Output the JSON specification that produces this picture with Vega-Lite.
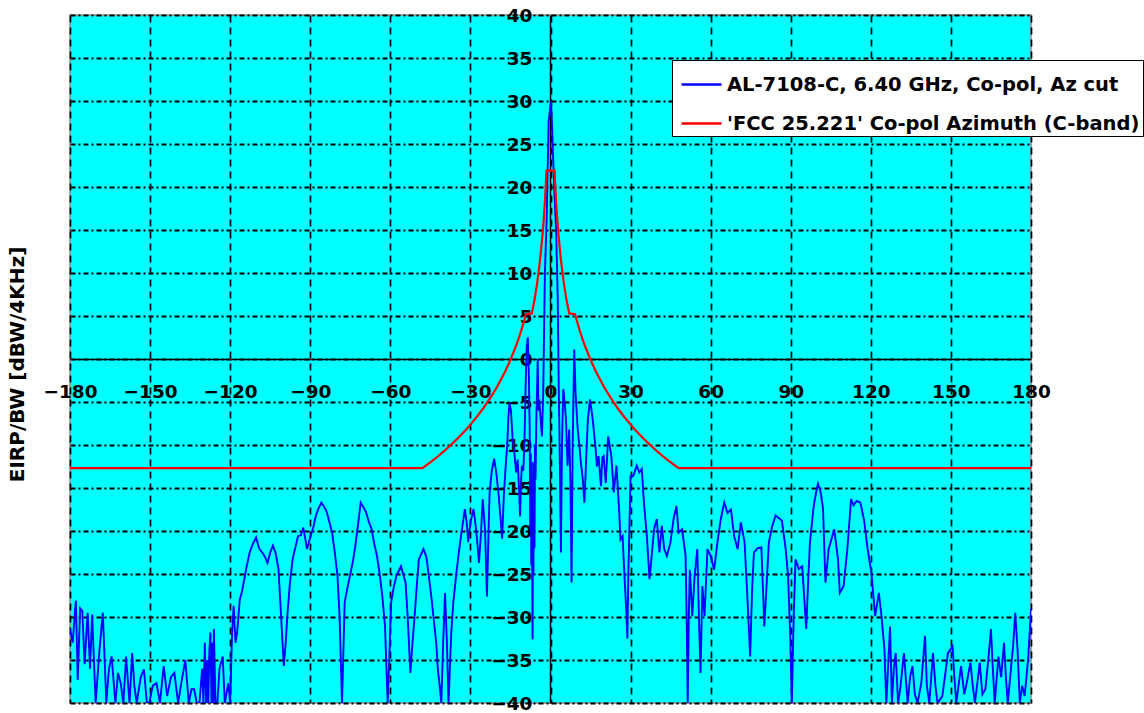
{
  "$schema": "https://vega.github.io/schema/vega-lite/v6.json",
  "width": 961,
  "height": 688,
  "autosize": {"type": "none"},
  "padding": {"left": 70, "top": 15, "right": 113, "bottom": 10},
  "background": "white",
  "config": {
    "view": {"fill": "#00FFFF", "stroke": "#8c8c8c", "strokeWidth": 1.5},
    "font": "DejaVu Sans"
  },
  "datasets": {
    "antenna": [
      {"az": -180, "eirp": -31.4}, {"az": -179, "eirp": -33}, {"az": -177.8, "eirp": -28.1}, {"az": -177.1, "eirp": -37.3},
      {"az": -176.2, "eirp": -29.0}, {"az": -175.4, "eirp": -29.3}, {"az": -174.5, "eirp": -35.5}, {"az": -173.4, "eirp": -29.5},
      {"az": -172.5, "eirp": -36}, {"az": -171.7, "eirp": -29.7}, {"az": -170.4, "eirp": -40}, {"az": -169, "eirp": -34},
      {"az": -167.7, "eirp": -29.5}, {"az": -166.4, "eirp": -40}, {"az": -165.4, "eirp": -36}, {"az": -164.4, "eirp": -34.6},
      {"az": -163.0, "eirp": -40}, {"az": -162, "eirp": -36.5}, {"az": -161.0, "eirp": -37.7}, {"az": -160, "eirp": -40},
      {"az": -159.0, "eirp": -34.6}, {"az": -157.7, "eirp": -40}, {"az": -156.7, "eirp": -34.2}, {"az": -155.9, "eirp": -38},
      {"az": -155.0, "eirp": -40}, {"az": -153.5, "eirp": -37}, {"az": -152.3, "eirp": -36.1}, {"az": -151.2, "eirp": -40},
      {"az": -150.3, "eirp": -40}, {"az": -149, "eirp": -38}, {"az": -147.6, "eirp": -37.7}, {"az": -146.3, "eirp": -40},
      {"az": -144.9, "eirp": -35.7}, {"az": -143.6, "eirp": -39.2}, {"az": -142.2, "eirp": -37}, {"az": -140.9, "eirp": -36.5},
      {"az": -139.5, "eirp": -40}, {"az": -138.2, "eirp": -37.5}, {"az": -136.8, "eirp": -35.0}, {"az": -135.5, "eirp": -40},
      {"az": -134.5, "eirp": -38.4}, {"az": -133.5, "eirp": -38.4}, {"az": -132.5, "eirp": -40}, {"az": -131.5, "eirp": -40},
      {"az": -130.5, "eirp": -36}, {"az": -130, "eirp": -40}, {"az": -129.5, "eirp": -33.0}, {"az": -129, "eirp": -40},
      {"az": -128.6, "eirp": -35}, {"az": -128.2, "eirp": -40}, {"az": -127.8, "eirp": -34}, {"az": -127.4, "eirp": -31.8},
      {"az": -127, "eirp": -40}, {"az": -126.6, "eirp": -33}, {"az": -126.3, "eirp": -40}, {"az": -126.1, "eirp": -31.4},
      {"az": -125.5, "eirp": -40}, {"az": -124.8, "eirp": -40}, {"az": -124, "eirp": -36}, {"az": -122.8, "eirp": -34.6},
      {"az": -122, "eirp": -40}, {"az": -120.7, "eirp": -37.7}, {"az": -120, "eirp": -40}, {"az": -119.3, "eirp": -32},
      {"az": -118.7, "eirp": -28.7}, {"az": -118, "eirp": -33}, {"az": -117.4, "eirp": -31.8}, {"az": -116.4, "eirp": -28},
      {"az": -115.4, "eirp": -26.8}, {"az": -114.0, "eirp": -24.4}, {"az": -112.7, "eirp": -22.5}, {"az": -111.5, "eirp": -21.5},
      {"az": -110.3, "eirp": -20.75}, {"az": -109.2, "eirp": -22}, {"az": -108.0, "eirp": -22.5}, {"az": -107, "eirp": -23},
      {"az": -106.0, "eirp": -23.7}, {"az": -105, "eirp": -22.5}, {"az": -104.0, "eirp": -21.7}, {"az": -103, "eirp": -22.5},
      {"az": -101.9, "eirp": -24.4}, {"az": -100.9, "eirp": -30}, {"az": -99.9, "eirp": -35.7}, {"az": -99.2, "eirp": -33},
      {"az": -98.6, "eirp": -29.9}, {"az": -97.6, "eirp": -26}, {"az": -96.6, "eirp": -23.3}, {"az": -94.6, "eirp": -20.6},
      {"az": -93.5, "eirp": -20.5}, {"az": -92.6, "eirp": -19.6}, {"az": -91.8, "eirp": -21}, {"az": -91.2, "eirp": -22.1},
      {"az": -89.9, "eirp": -20.6}, {"az": -88.8, "eirp": -19.5}, {"az": -87.9, "eirp": -18.2}, {"az": -86.8, "eirp": -17.3},
      {"az": -85.8, "eirp": -16.7}, {"az": -84.8, "eirp": -17.2}, {"az": -83.8, "eirp": -17.8}, {"az": -82.8, "eirp": -19},
      {"az": -81.8, "eirp": -20.2}, {"az": -80.8, "eirp": -22.5}, {"az": -79.8, "eirp": -25.2}, {"az": -79, "eirp": -30},
      {"az": -78.1, "eirp": -40}, {"az": -77.1, "eirp": -28.3}, {"az": -76, "eirp": -26.5}, {"az": -75.1, "eirp": -25.2},
      {"az": -74, "eirp": -23.5}, {"az": -73.1, "eirp": -21.7}, {"az": -72, "eirp": -19}, {"az": -71.1, "eirp": -16.7},
      {"az": -70, "eirp": -17.3}, {"az": -69.1, "eirp": -17.8}, {"az": -68, "eirp": -19}, {"az": -67.0, "eirp": -19.8},
      {"az": -66, "eirp": -21.5}, {"az": -65.0, "eirp": -22.9}, {"az": -64, "eirp": -25}, {"az": -63.0, "eirp": -27.6},
      {"az": -62, "eirp": -31}, {"az": -61.0, "eirp": -40}, {"az": -60.3, "eirp": -34}, {"az": -59.7, "eirp": -28.3},
      {"az": -58.7, "eirp": -26.5}, {"az": -57.7, "eirp": -25.2}, {"az": -56.0, "eirp": -24.1}, {"az": -55.2, "eirp": -25},
      {"az": -54.3, "eirp": -26.0}, {"az": -53.5, "eirp": -30}, {"az": -52.5, "eirp": -36.5}, {"az": -51.7, "eirp": -33},
      {"az": -50.9, "eirp": -29.9}, {"az": -50, "eirp": -26}, {"az": -49.3, "eirp": -23.3}, {"az": -47.6, "eirp": -22.1},
      {"az": -46.5, "eirp": -23}, {"az": -45.6, "eirp": -25.2}, {"az": -44.5, "eirp": -28}, {"az": -43.6, "eirp": -30.7},
      {"az": -42.8, "eirp": -33}, {"az": -42.2, "eirp": -36.1}, {"az": -41.5, "eirp": -38}, {"az": -40.9, "eirp": -40},
      {"az": -40.2, "eirp": -33}, {"az": -39.5, "eirp": -27.2}, {"az": -38.8, "eirp": -33}, {"az": -38.2, "eirp": -40},
      {"az": -37.2, "eirp": -32}, {"az": -36.4, "eirp": -28.3}, {"az": -35.3, "eirp": -25}, {"az": -34.2, "eirp": -22.1},
      {"az": -33, "eirp": -19.5}, {"az": -32.1, "eirp": -17.45}, {"az": -31.4, "eirp": -19}, {"az": -30.8, "eirp": -21.3},
      {"az": -30, "eirp": -19}, {"az": -28.8, "eirp": -17.45}, {"az": -27.8, "eirp": -20}, {"az": -26.8, "eirp": -23.7},
      {"az": -26, "eirp": -20}, {"az": -25.4, "eirp": -16.3}, {"az": -24.5, "eirp": -20}, {"az": -23.8, "eirp": -27.6},
      {"az": -23.2, "eirp": -20}, {"az": -22.8, "eirp": -15.5}, {"az": -22, "eirp": -13}, {"az": -21.1, "eirp": -11.6},
      {"az": -20.2, "eirp": -13.5}, {"az": -19.4, "eirp": -15.9}, {"az": -18.1, "eirp": -20.9}, {"az": -17.5, "eirp": -16},
      {"az": -16.7, "eirp": -12.0}, {"az": -16.2, "eirp": -10}, {"az": -15.8, "eirp": -7}, {"az": -15.4, "eirp": -5.1},
      {"az": -14.8, "eirp": -6}, {"az": -14.2, "eirp": -9.3}, {"az": -13.5, "eirp": -11}, {"az": -12.9, "eirp": -13.2},
      {"az": -12.3, "eirp": -11.7}, {"az": -11.8, "eirp": -15}, {"az": -11.4, "eirp": -18.3}, {"az": -11.0, "eirp": -14},
      {"az": -10.7, "eirp": -12.4}, {"az": -10.2, "eirp": -13}, {"az": -9.8, "eirp": -10.1}, {"az": -9.3, "eirp": -3},
      {"az": -8.9, "eirp": 1.5}, {"az": -8.5, "eirp": 2.5}, {"az": -8.1, "eirp": -2}, {"az": -7.8, "eirp": -8},
      {"az": -7.6, "eirp": -20}, {"az": -7.4, "eirp": -11}, {"az": -7.2, "eirp": -24}, {"az": -7.0, "eirp": -12},
      {"az": -6.85, "eirp": -25}, {"az": -6.7, "eirp": -32.6}, {"az": -6.55, "eirp": -14}, {"az": -6.4, "eirp": -25},
      {"az": -6.2, "eirp": -12}, {"az": -6.0, "eirp": -22}, {"az": -5.8, "eirp": -10}, {"az": -5.6, "eirp": -14},
      {"az": -5.3, "eirp": -7}, {"az": -5.0, "eirp": -3}, {"az": -4.8, "eirp": 0}, {"az": -4.5, "eirp": -6},
      {"az": -4.2, "eirp": -4.7}, {"az": -3.7, "eirp": -7}, {"az": -3.2, "eirp": -9.0}, {"az": -2.7, "eirp": -3.6},
      {"az": -2.1, "eirp": 10}, {"az": -1.4, "eirp": 16.7}, {"az": -0.7, "eirp": 27.6}, {"az": 0.2, "eirp": 30},
      {"az": 0.7, "eirp": 26}, {"az": 1.4, "eirp": 19.8}, {"az": 2.1, "eirp": 15}, {"az": 2.7, "eirp": 7.3},
      {"az": 3.1, "eirp": -3.6}, {"az": 3.5, "eirp": -12}, {"az": 3.9, "eirp": -22.5}, {"az": 4.3, "eirp": -10},
      {"az": 4.8, "eirp": -3.5}, {"az": 5.3, "eirp": -5}, {"az": 5.8, "eirp": -7.0}, {"az": 6.4, "eirp": -12.4},
      {"az": 7.0, "eirp": -8.2}, {"az": 7.5, "eirp": -15}, {"az": 7.9, "eirp": -26.0}, {"az": 8.3, "eirp": -10},
      {"az": 8.9, "eirp": 1.1}, {"az": 9.4, "eirp": -4}, {"az": 10.2, "eirp": -8.2}, {"az": 10.8, "eirp": -10},
      {"az": 11.4, "eirp": -12.1}, {"az": 12.1, "eirp": -14}, {"az": 12.7, "eirp": -16.7}, {"az": 13.3, "eirp": -12.1},
      {"az": 14.0, "eirp": -7}, {"az": 14.8, "eirp": -4.7}, {"az": 15.8, "eirp": -7.0}, {"az": 16.8, "eirp": -10.1},
      {"az": 17.4, "eirp": -12.5}, {"az": 18.0, "eirp": -11.3}, {"az": 18.9, "eirp": -14.8}, {"az": 19.4, "eirp": -11.5},
      {"az": 19.9, "eirp": -11.3}, {"az": 20.7, "eirp": -14.4}, {"az": 21.6, "eirp": -9.0}, {"az": 22.8, "eirp": -11.3},
      {"az": 23.7, "eirp": -15.5}, {"az": 24.7, "eirp": -12.4}, {"az": 25.7, "eirp": -17.5}, {"az": 26.2, "eirp": -21.0},
      {"az": 27.0, "eirp": -20.6}, {"az": 27.9, "eirp": -26.4}, {"az": 28.5, "eirp": -29.9}, {"az": 28.8, "eirp": -32.5},
      {"az": 29.1, "eirp": -26.0}, {"az": 30.0, "eirp": -13.6}, {"az": 31.0, "eirp": -13.6}, {"az": 32.3, "eirp": -12.4},
      {"az": 33.3, "eirp": -13.2}, {"az": 34.2, "eirp": -12.8}, {"az": 35.0, "eirp": -16.7}, {"az": 36.1, "eirp": -20.6},
      {"az": 37.1, "eirp": -25.6}, {"az": 37.9, "eirp": -22.9}, {"az": 38.8, "eirp": -19.8}, {"az": 39.8, "eirp": -18.6},
      {"az": 40.8, "eirp": -22.5}, {"az": 41.7, "eirp": -19.4}, {"az": 42.6, "eirp": -22.1}, {"az": 43.6, "eirp": -22.9},
      {"az": 44.9, "eirp": -21.4}, {"az": 46.1, "eirp": -18.6}, {"az": 47.2, "eirp": -17.1}, {"az": 48.0, "eirp": -20.2},
      {"az": 49.3, "eirp": -19.8}, {"az": 50.6, "eirp": -22.9}, {"az": 51.0, "eirp": -30}, {"az": 51.4, "eirp": -40},
      {"az": 51.8, "eirp": -30}, {"az": 52.2, "eirp": -24.5}, {"az": 53.1, "eirp": -29.9}, {"az": 54.0, "eirp": -25.2},
      {"az": 55.0, "eirp": -22.1}, {"az": 55.6, "eirp": -30}, {"az": 56.2, "eirp": -36.5}, {"az": 56.9, "eirp": -26.4},
      {"az": 57.7, "eirp": -29.9}, {"az": 58.8, "eirp": -22.1}, {"az": 60.0, "eirp": -22.9}, {"az": 61.3, "eirp": -24.5},
      {"az": 62.5, "eirp": -21.4}, {"az": 63.8, "eirp": -18.6}, {"az": 65.1, "eirp": -16.7}, {"az": 66.3, "eirp": -17.9},
      {"az": 67.6, "eirp": -17.5}, {"az": 68.8, "eirp": -20.6}, {"az": 70.1, "eirp": -22.1}, {"az": 71.3, "eirp": -19.0},
      {"az": 72.7, "eirp": -21.3}, {"az": 73.8, "eirp": -28}, {"az": 74.8, "eirp": -34.6}, {"az": 75.5, "eirp": -27},
      {"az": 76.2, "eirp": -22.5}, {"az": 77.6, "eirp": -22.0}, {"az": 79.0, "eirp": -21.9}, {"az": 80.1, "eirp": -31.1},
      {"az": 81.0, "eirp": -26}, {"az": 81.8, "eirp": -21.3}, {"az": 83.0, "eirp": -19.5}, {"az": 84.3, "eirp": -18.2},
      {"az": 85.5, "eirp": -18.5}, {"az": 86.7, "eirp": -18.8}, {"az": 88.1, "eirp": -22.1}, {"az": 89.0, "eirp": -25.2},
      {"az": 89.8, "eirp": -32}, {"az": 90.4, "eirp": -40}, {"az": 91.1, "eirp": -30}, {"az": 91.8, "eirp": -23.3},
      {"az": 93.0, "eirp": -24.4}, {"az": 94.3, "eirp": -24.1}, {"az": 95.8, "eirp": -31.4}, {"az": 96.5, "eirp": -26},
      {"az": 97.2, "eirp": -21.3}, {"az": 98.6, "eirp": -17.1}, {"az": 99.5, "eirp": -15.5}, {"az": 100.2, "eirp": -14.5},
      {"az": 101.2, "eirp": -15.5}, {"az": 102.1, "eirp": -17.4}, {"az": 103.0, "eirp": -26.0}, {"az": 104.2, "eirp": -22.1},
      {"az": 106.3, "eirp": -19.8}, {"az": 107.7, "eirp": -23.3}, {"az": 108.4, "eirp": -27.2}, {"az": 109.8, "eirp": -26.4},
      {"az": 111.2, "eirp": -22.1}, {"az": 112.6, "eirp": -16.3}, {"az": 113.5, "eirp": -17}, {"az": 114.7, "eirp": -16.5},
      {"az": 116.1, "eirp": -16.7}, {"az": 117.5, "eirp": -18.8}, {"az": 118.8, "eirp": -22.1}, {"az": 120.2, "eirp": -24.8},
      {"az": 121.6, "eirp": -29.9}, {"az": 123.0, "eirp": -27.2}, {"az": 124.0, "eirp": -29.9}, {"az": 125.1, "eirp": -33.8},
      {"az": 125.8, "eirp": -40}, {"az": 127.2, "eirp": -31.1}, {"az": 127.9, "eirp": -40}, {"az": 128.6, "eirp": -36},
      {"az": 129.3, "eirp": -34.2}, {"az": 130.2, "eirp": -40}, {"az": 131.0, "eirp": -38.4}, {"az": 132.4, "eirp": -34.2},
      {"az": 133.8, "eirp": -40}, {"az": 134.7, "eirp": -37}, {"az": 135.6, "eirp": -35.7}, {"az": 136.5, "eirp": -39},
      {"az": 137.5, "eirp": -40}, {"az": 138.9, "eirp": -37.7}, {"az": 140.3, "eirp": -32.2}, {"az": 141.0, "eirp": -38},
      {"az": 141.9, "eirp": -40}, {"az": 143.3, "eirp": -34.2}, {"az": 144.2, "eirp": -38}, {"az": 145.0, "eirp": -40},
      {"az": 146.8, "eirp": -39.2}, {"az": 148.9, "eirp": -34.2}, {"az": 150.6, "eirp": -33.4}, {"az": 151.3, "eirp": -37},
      {"az": 152.0, "eirp": -40}, {"az": 153.8, "eirp": -35.7}, {"az": 155.0, "eirp": -39}, {"az": 155.9, "eirp": -37.7},
      {"az": 157.3, "eirp": -35.3}, {"az": 158.2, "eirp": -38}, {"az": 159.0, "eirp": -40}, {"az": 160.8, "eirp": -35.3},
      {"az": 161.8, "eirp": -39}, {"az": 162.9, "eirp": -38.4}, {"az": 164.0, "eirp": -35}, {"az": 165.0, "eirp": -31.4},
      {"az": 165.7, "eirp": -36}, {"az": 166.4, "eirp": -40}, {"az": 167.8, "eirp": -34.6}, {"az": 168.8, "eirp": -37},
      {"az": 169.9, "eirp": -33.0}, {"az": 170.6, "eirp": -37}, {"az": 171.3, "eirp": -40}, {"az": 172.7, "eirp": -35.3},
      {"az": 173.4, "eirp": -33}, {"az": 174.1, "eirp": -29.5}, {"az": 175.0, "eirp": -34}, {"az": 175.8, "eirp": -40},
      {"az": 176.7, "eirp": -38}, {"az": 177.6, "eirp": -39.2}, {"az": 178.3, "eirp": -37}, {"az": 179.0, "eirp": -34.6},
      {"az": 180, "eirp": -29.1}
    ],
    "fcc": [
      {"az": -180, "eirp": -12.7}, {"az": -48, "eirp": -12.7}, {"az": -45, "eirp": -12.03}, {"az": -42, "eirp": -11.28},
      {"az": -40, "eirp": -10.75}, {"az": -37, "eirp": -9.9}, {"az": -35, "eirp": -9.3}, {"az": -32, "eirp": -8.33},
      {"az": -30, "eirp": -7.63}, {"az": -27, "eirp": -6.48}, {"az": -25, "eirp": -5.65}, {"az": -22, "eirp": -4.26},
      {"az": -20, "eirp": -3.23}, {"az": -17, "eirp": -1.46}, {"az": -15, "eirp": -0.1}, {"az": -13, "eirp": 1.45},
      {"az": -12, "eirp": 2.32}, {"az": -11, "eirp": 3.27}, {"az": -10, "eirp": 4.3}, {"az": -9.2, "eirp": 5.2},
      {"az": -7, "eirp": 5.3}, {"az": -6, "eirp": 6.85}, {"az": -5, "eirp": 8.83}, {"az": -4, "eirp": 11.25},
      {"az": -3, "eirp": 14.37}, {"az": -2.5, "eirp": 16.35}, {"az": -2, "eirp": 18.77}, {"az": -1.5, "eirp": 21.9},
      {"az": 1.5, "eirp": 21.9}, {"az": 2, "eirp": 18.77}, {"az": 2.5, "eirp": 16.35}, {"az": 3, "eirp": 14.37},
      {"az": 4, "eirp": 11.25}, {"az": 5, "eirp": 8.83}, {"az": 6, "eirp": 6.85}, {"az": 7, "eirp": 5.3},
      {"az": 9.2, "eirp": 5.2}, {"az": 10, "eirp": 4.3}, {"az": 11, "eirp": 3.27}, {"az": 12, "eirp": 2.32},
      {"az": 13, "eirp": 1.45}, {"az": 15, "eirp": -0.1}, {"az": 17, "eirp": -1.46}, {"az": 20, "eirp": -3.23},
      {"az": 22, "eirp": -4.26}, {"az": 25, "eirp": -5.65}, {"az": 27, "eirp": -6.48}, {"az": 30, "eirp": -7.63},
      {"az": 32, "eirp": -8.33}, {"az": 35, "eirp": -9.3}, {"az": 37, "eirp": -9.9}, {"az": 40, "eirp": -10.75},
      {"az": 42, "eirp": -11.28}, {"az": 45, "eirp": -12.03}, {"az": 48, "eirp": -12.7}, {"az": 180, "eirp": -12.7}
    ]
  },
  "layer": [
    {
      "data": {"name": "antenna"},
      "mark": {"type": "line", "strokeWidth": 1.9, "clip": true},
      "encoding": {
        "x": {
          "field": "az", "type": "quantitative",
          "scale": {"domain": [-180, 180], "nice": false, "zero": false},
          "axis": {
            "values": [-180, -150, -120, -90, -60, -30, 0, 30, 60, 90, 120, 150, 180],
            "offset": -344,
            "title": null,
            "domainColor": "black", "domainWidth": 1.5,
            "ticks": false,
            "labelPadding": 23,
            "labelFont": "DejaVu Sans", "labelFontWeight": "bold", "labelFontSize": 18.5, "labelColor": "black",
            "labelFlush": false, "labelOverlap": false, "labelBound": false,
            "grid": true, "gridColor": "black", "gridDash": [7, 5], "gridWidth": 1.7, "gridOpacity": 1
          }
        },
        "y": {
          "field": "eirp", "type": "quantitative",
          "scale": {"domain": [-40, 40], "nice": false, "zero": false},
          "axis": {
            "values": [-40, -35, -30, -25, -20, -15, -10, -5, 0, 5, 10, 15, 20, 25, 30, 35, 40],
            "offset": -480,
            "title": "EIRP/BW [dBW/4KHz]",
            "titleX": -533, "titleY": 349, "titleAngle": 270, "titleAlign": "center", "titleBaseline": "middle",
            "titleFont": "DejaVu Sans", "titleFontWeight": "bold", "titleFontSize": 20, "titleColor": "black",
            "domainColor": "black", "domainWidth": 1.5,
            "ticks": false,
            "labelPadding": 18,
            "labelFont": "DejaVu Sans", "labelFontWeight": "bold", "labelFontSize": 18.5, "labelColor": "black",
            "labelFlush": false, "labelOverlap": false, "labelBound": false,
            "grid": true, "gridColor": "black", "gridDash": [5, 3, 2, 3], "gridWidth": 2, "gridOpacity": 1
          }
        },
        "color": {
          "datum": "AL-7108-C, 6.40 GHz, Co-pol, Az cut",
          "type": "nominal",
          "scale": {
            "domain": ["AL-7108-C, 6.40 GHz, Co-pol, Az cut", "'FCC 25.221' Co-pol Azimuth (C-band)"],
            "range": ["#0000FF", "#FF0000"]
          },
          "legend": {
            "orient": "none", "legendX": 602, "legendY": 45,
            "title": null,
            "symbolType": "stroke", "symbolSize": 1600, "symbolStrokeWidth": 2.5,
            "symbolOffset": 5, "labelOffset": 4, "rowPadding": 8, "padding": 3,
            "labelFont": "DejaVu Sans", "labelFontWeight": "bold", "labelFontSize": 19.5, "labelColor": "black",
            "labelLimit": 1000,
            "strokeColor": "black", "fillColor": "white", "cornerRadius": 0
          }
        }
      }
    },
    {
      "data": {"name": "fcc"},
      "mark": {"type": "line", "strokeWidth": 2.2, "clip": true},
      "encoding": {
        "x": {"field": "az", "type": "quantitative"},
        "y": {"field": "eirp", "type": "quantitative"},
        "color": {"datum": "'FCC 25.221' Co-pol Azimuth (C-band)", "type": "nominal"}
      }
    }
  ]
}
